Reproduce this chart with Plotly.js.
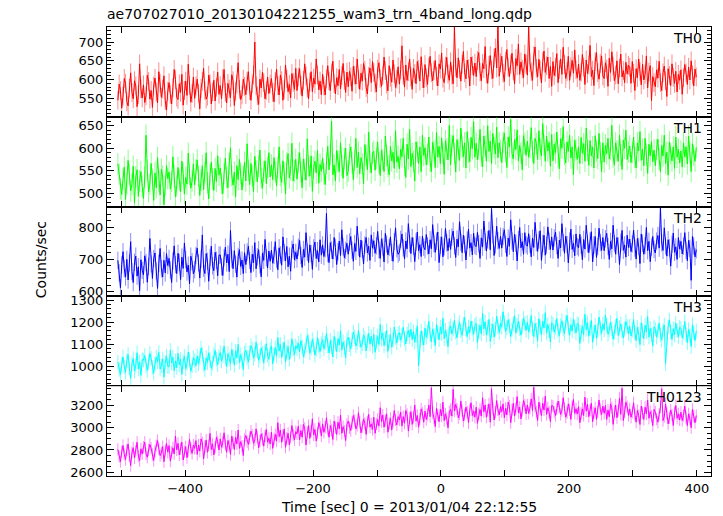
<!DOCTYPE html>
<html>
<head>
<meta charset="utf-8">
<script src="https://cdn.plot.ly/plotly-3.0.1.min.js"></script>
<style>html,body{margin:0;padding:0;background:#fff;}#chart{width:723px;height:516px;}</style>
</head>
<body>
<div id="chart"></div>
<script>
// Time bins (seconds from 2013/01/04 22:12:55), 2-s bins
const tStart = -505, tStep = 2, nBins = 453;
const times = [];
for (let i = 0; i < nBins; i++) times.push(tStart + tStep * i);

const panelNames = ["TH0", "TH1", "TH2", "TH3", "TH0123"];

const th0 = [
545,588,571,524,556,603,590,541,530,577,618,566,549,597,583,528,560,642,575,551,
586,539,557,612,595,548,571,526,583,604,567,538,621,590,553,575,610,544,519,569,
592,561,535,578,627,600,553,547,589,566,614,532,571,596,558,641,585,540,563,607,
550,583,601,564,522,577,595,630,571,548,556,612,589,535,567,598,543,579,620,561,
584,549,603,627,566,538,590,575,552,613,597,531,569,588,645,574,547,559,601,582,
560,596,621,571,545,589,612,700,583,557,534,601,578,620,592,549,571,607,563,588,
603,566,541,595,628,584,559,612,597,545,573,639,602,568,587,551,616,593,574,630,
571,607,629,585,556,598,642,610,577,549,593,621,568,604,588,655,612,573,596,560,
614,583,559,602,637,596,571,618,649,590,562,605,584,627,575,611,643,598,566,620,
581,622,607,569,635,612,588,655,601,574,617,596,643,625,579,562,609,631,592,648,
619,590,567,628,645,603,582,611,660,624,588,570,637,606,593,652,615,579,601,634,
588,626,690,612,580,639,598,621,655,607,574,630,616,589,648,627,596,661,603,578,
640,605,587,633,662,618,597,624,651,609,583,642,628,671,604,592,636,659,615,598,
647,612,589,740,633,605,658,627,596,641,675,618,602,652,629,583,660,637,611,644,
608,651,672,620,597,643,629,688,615,590,638,664,626,603,657,684,631,740,609,645,
662,617,595,649,680,633,608,641,670,623,589,656,637,695,614,647,628,605,668,641,
612,740,645,621,598,663,687,630,607,654,626,591,648,676,619,637,660,603,635,582,
648,611,633,669,592,627,655,614,686,640,603,621,662,598,634,651,617,679,626,605,
641,598,620,667,633,587,652,616,639,691,608,625,584,648,672,619,601,643,663,610,
603,645,628,582,657,619,674,636,597,612,650,589,631,668,607,624,592,646,615,638,
633,590,648,617,571,629,605,655,622,586,641,599,614,663,578,620,637,544,608,592,
581,626,604,649,592,571,618,636,597,555,629,611,584,642,606,590,622,567,614,598,
626,561,605,640,618,587,633,599,650,612,583,628,607];

const th1 = [
565,542,510,497,531,558,486,522,573,541,505,519,560,478,536,552,493,527,548,515,
488,536,629,551,503,520,566,531,484,545,512,579,527,496,553,538,474,518,561,532,
547,509,526,581,538,492,516,557,529,503,571,544,498,535,520,589,542,511,527,565,
518,552,574,537,495,529,561,508,546,590,523,487,541,569,532,506,555,526,583,540,
556,521,499,543,578,534,512,566,601,539,518,547,492,561,530,575,544,507,537,569,
527,610,551,519,566,538,503,582,549,525,560,596,533,511,548,572,521,557,590,536,
563,530,579,548,516,557,603,539,524,572,545,498,567,588,534,552,611,527,549,575,
531,568,590,547,512,576,553,529,621,560,538,583,504,557,571,545,595,522,564,549,
578,543,519,567,604,552,586,660,541,563,527,595,570,548,612,561,533,577,600,539,
549,586,603,568,530,574,622,557,591,543,579,565,521,608,584,552,636,570,545,589,
593,551,578,614,567,539,596,575,548,627,583,560,541,604,572,591,555,639,569,582,
554,598,581,622,563,535,609,576,642,559,588,571,527,614,592,566,603,548,629,584,
601,563,587,625,571,548,613,594,557,635,580,604,566,623,589,542,617,598,574,651,
563,606,628,588,547,619,596,573,645,602,581,612,556,637,591,570,624,599,659,580,
611,574,598,642,582,559,627,605,571,650,593,616,566,633,601,587,647,579,612,595,
568,613,634,592,557,625,603,664,588,576,619,597,641,572,606,589,552,628,611,584,
616,580,601,646,593,566,622,611,575,639,598,583,655,607,571,627,594,613,560,631,
572,609,590,636,581,554,621,600,648,586,567,614,593,629,578,603,541,618,596,575,
603,566,624,589,610,571,645,595,562,617,583,603,556,628,594,577,633,590,548,612,
569,607,588,622,576,598,651,581,563,612,594,571,629,585,553,618,600,640,575,592,
605,568,591,625,579,556,612,594,637,573,598,561,622,587,544,609,583,615,570,596,
561,597,620,575,548,606,583,629,566,591,540,614,588,572,603,555,625,580,598,567,
594,558,612,581,603,565,627,590,548,610,584,571,602];

const th2 = [
697,658,612,683,724,671,645,700,636,689,755,662,628,691,710,648,677,603,699,666,
652,711,690,629,678,765,686,641,702,720,664,610,688,734,671,645,697,658,718,681,
703,667,628,695,742,684,656,719,690,637,707,672,751,699,661,682,624,710,693,655,
668,712,735,689,642,701,776,673,656,718,694,632,706,741,680,665,722,697,649,713,
714,677,650,705,738,689,716,662,790,701,671,727,685,645,709,730,678,698,656,721,
684,723,741,697,659,716,689,752,671,708,730,683,646,719,697,762,705,673,726,694,
729,688,712,755,701,668,736,714,682,770,721,695,740,677,710,663,731,748,699,722,
701,738,759,712,675,731,707,783,722,690,745,718,669,736,754,703,727,692,761,713,
745,709,733,843,718,690,752,729,701,768,737,684,724,757,712,792,739,705,728,750,
716,754,771,728,694,749,725,803,738,707,760,731,686,745,768,720,741,697,776,735,
758,719,742,787,730,703,764,739,692,781,748,714,737,770,722,694,755,798,733,716,
722,762,779,736,701,757,733,811,749,718,768,741,693,754,785,727,746,709,772,738,
730,777,742,717,761,733,808,749,722,756,785,690,744,770,708,739,796,751,727,765,
731,769,788,742,706,763,739,817,754,721,775,747,698,760,794,735,752,714,781,743,
740,784,749,703,767,738,819,755,726,761,790,730,858,777,712,745,803,758,734,772,
735,771,792,747,709,766,741,823,757,724,778,750,695,762,799,736,755,716,783,746,
741,780,747,708,766,737,815,752,725,760,789,697,750,775,713,744,801,756,731,770,
729,767,785,743,703,760,736,811,752,719,772,746,689,757,794,731,750,711,779,740,
736,778,744,699,762,732,806,748,721,757,786,692,745,771,706,740,797,752,728,768,
727,764,781,740,700,756,733,806,749,716,768,742,684,753,790,728,745,707,775,737,
763,724,748,791,735,701,765,740,687,779,750,716,743,799,727,756,693,738,771,731,
720,757,774,735,860,751,728,798,742,710,761,736,679,747,782,722,739,700,768,732,
756,717,741,783,728,696,759,734,635,771,742,708,730];

const th3 = [
1018,985,961,1007,1042,996,972,1025,1053,990,944,1011,1034,978,1003,1061,987,1019,958,1030,
1027,1049,1003,981,1016,1058,1035,994,968,1012,1041,1020,1063,987,1002,1033,950,1018,1046,999,
997,1072,1015,1040,979,1024,993,1058,1006,1031,963,1020,1045,988,1012,1064,1028,977,1001,1039,
1026,1002,1047,1011,1036,1083,1055,1008,982,1038,1017,1061,1029,990,1013,1052,1072,1031,1006,1044,
1062,1023,1047,1091,1035,998,1057,1031,1012,1076,1044,1005,1068,1039,1099,1017,1052,1028,985,1060,
1072,1040,1019,1061,1093,1077,1036,1054,1109,1068,1027,1045,1083,1058,1014,1066,1102,1049,1031,1075,
1091,1011,1056,1084,1047,1130,1069,1098,1040,1074,1110,1018,1063,1089,1031,1065,1124,1077,1052,1093,
1080,1105,1065,1116,1088,1043,1071,1094,1139,1112,1059,1082,1121,1097,1050,1078,1130,1092,1066,1103,
1121,1079,1104,1149,1093,1060,1117,1088,1042,1135,1101,1066,1125,1096,1161,1073,1110,1084,1037,1119,
1131,1098,1079,1120,1155,1134,1092,1108,1163,1117,1086,1101,1142,1127,1069,1115,1149,1100,1136,1090,
1145,1063,1110,1136,1098,1189,1122,1151,1093,1127,1162,1067,1114,1143,1086,1119,1178,1130,1105,1147,
1152,1118,1140,1177,1125,1101,1146,1163,1132,1168,1121,1157,1109,1139,1183,1002,1113,1160,1128,1096,
1173,1131,1156,1204,1145,1111,1169,1140,1093,1189,1154,1120,1178,1148,1217,1125,1163,1136,1088,1172,
1183,1147,1170,1209,1155,1129,1176,1198,1161,1140,1191,1222,1168,1134,1179,1152,1205,1173,1144,1186,
1194,1108,1158,1186,1147,1240,1170,1201,1141,1176,1212,1113,1162,1191,1132,1167,1227,1178,1153,1196,
1177,1247,1199,1158,1174,1211,1182,1135,1166,1193,1229,1150,1187,1204,1170,1141,1180,1218,1195,1162,
1199,1155,1181,1230,1170,1134,1194,1165,1116,1215,1179,1143,1204,1173,1243,1150,1189,1161,1110,1197,
1190,1154,1177,1216,1163,1138,1185,1206,1169,1148,1197,1231,1175,1140,1188,1160,1213,1179,1151,1194,
1190,1103,1154,1182,1143,1236,1166,1197,1136,1172,1208,1109,1158,1187,1127,1163,1223,1174,1148,1192,
1165,1232,1187,1145,1163,1199,1170,1122,1154,1181,1217,1139,1175,1192,1159,1128,1168,1203,1181,1147,
1181,1137,1163,1212,1152,1116,1176,1147,1098,1197,1161,1125,1186,1155,1225,1132,1171,1143,1092,1179,
1168,1132,1157,1196,1143,1118,1164,1187,1012,1128,1179,1210,1156,1121,1170,1142,1195,1161,1133,1176,
1172,1128,1154,1203,1143,1107,1167,1138,1089,1188,1152,1116,1160];

const th0123 = [
2805,2740,2695,2785,2840,2760,2715,2800,2855,2750,2660,2775,2820,2730,2790,2870,2745,2705,2810,2765,
2825,2870,2765,2735,2800,2850,2815,2760,2705,2790,2840,2885,2810,2750,2775,2830,2695,2795,2860,2780,
2840,2700,2780,2820,2765,2925,2800,2860,2755,2810,2870,2710,2785,2830,2730,2795,2895,2815,2770,2845,
2815,2885,2760,2845,2790,2900,2865,2720,2830,2890,2780,2840,2950,2805,2855,2755,2825,2915,2875,2800,
2900,2825,2870,2955,2850,2780,2885,2840,2760,2925,2865,2805,2915,2855,2980,2815,2875,2835,2750,2895,
2930,2875,2850,2910,2970,2935,2860,2890,2990,2915,2820,2880,2945,2900,2835,2925,2985,2870,2905,2855,
2960,2815,2900,2940,2880,3045,2920,2980,2870,2930,2990,2825,2905,2950,2845,2915,3020,2935,2890,2965,
2945,3015,2890,2975,2915,3030,2995,2845,2960,3020,2905,2970,3080,2935,2985,2880,2955,3045,3005,2925,
3035,2960,3005,3090,2985,2915,3020,2975,2895,3060,3000,2940,3050,2990,3115,2950,3010,2970,2885,3030,
3060,3000,2975,3045,3110,3065,2990,3020,3135,3050,2955,3010,3080,3040,2940,3055,3120,3005,3035,2985,
3095,2950,3035,3075,3015,3180,3055,3115,3005,3065,3125,2960,3040,3085,2980,3050,3155,3070,3025,3100,
3070,3140,3015,3100,3040,3155,3120,2970,3085,3145,3030,3095,3205,3060,3110,3005,3080,3170,3130,3050,
3150,3075,3120,3205,3100,3360,3135,3090,3010,3175,3115,3055,3165,3105,3230,3065,3125,3085,3000,3145,
3165,3105,3345,3150,3210,3170,3090,3125,3240,3155,3060,3115,3185,3140,3045,3160,3225,3110,3150,3095,
3185,3040,3125,3165,3105,3270,3145,3205,3095,3155,3215,3050,3350,3175,3070,3140,3245,3160,3115,3190,
3145,3215,3090,3175,3115,3230,3195,3045,3160,3220,3105,3170,3280,3135,3185,3080,3155,3245,3205,3125,
3205,3130,3175,3260,3155,3365,3190,3145,3065,3230,3170,3110,3220,3160,3285,3120,3180,3140,3055,3200,
3195,3140,3110,3170,3240,3185,3120,3155,3270,3175,3095,3135,3215,3160,3075,3190,3255,3130,3170,3125,
3190,3045,3130,3170,3110,3275,3150,3210,3100,3160,3220,3055,3135,3180,3075,3145,3250,3165,3120,3195,
3130,3200,3075,3160,3100,3215,3180,3030,3145,3205,3090,3155,3265,3120,3355,3065,3140,3230,3190,3110,
3170,3095,3140,3225,3120,3050,3155,3110,3030,3195,3135,3075,3185,3125,3250,3085,3145,3105,3020,3165,
3140,3080,3050,3120,3185,3350,3065,3100,3215,3130,3035,3090,3160,3115,3020,3135,3200,3085,3125,3070,
3140,3065,3110,3195,3090,3020,3125,3080,3000,3165,3105,3045,3110];

const seriesValues = [th0, th1, th2, th3, th0123];
const seriesErr = [25, 24, 27, 33, 55];
const lineColors = ["#ff0000", "#00ff00", "#0000ff", "#00ffff", "#ff00ff"];
const errColors = ["rgba(255,0,0,0.45)", "rgba(0,255,0,0.45)", "rgba(0,0,255,0.45)", "rgba(0,255,255,0.5)", "rgba(255,0,255,0.45)"];

const yRanges = [[501, 740], [470, 670], [585, 864], [909, 1317], [2566, 3374]];
const yDticks = [50, 50, 100, 100, 200];
const yMinor = [10, 10, 20, 20, 50];

const FONT = "DejaVu Sans, Verdana, sans-serif";
const traces = [];
const layout = {
  width: 723, height: 516,
  margin: {l: 107, r: 12, t: 27, b: 40, pad: 0},
  paper_bgcolor: "#fff", plot_bgcolor: "#fff",
  showlegend: false,
  font: {family: FONT, size: 13, color: "#000"},
  title: {
    text: "ae707027010_20130104221255_wam3_trn_4band_long.qdp",
    x: 0, xref: "paper", xanchor: "left",
    y: 0.973, yref: "container", yanchor: "middle",
    font: {family: FONT, size: 14, color: "#000"}
  },
  annotations: []
};

for (let k = 0; k < 5; k++) {
  const sx = k === 0 ? "" : String(k + 1);
  traces.push({
    x: times, y: seriesValues[k],
    xaxis: "x" + sx, yaxis: "y" + sx,
    type: "scatter", mode: "lines",
    line: {color: lineColors[k], width: 1},
    error_y: {type: "constant", value: seriesErr[k], color: errColors[k], thickness: 1, width: 0},
    hoverinfo: "skip"
  });
  const top = 1 - 0.2 * k;
  layout["xaxis" + sx] = {
    domain: [0, 1], anchor: "y" + sx, range: [-522, 422],
    tickmode: "linear", tick0: 0, dtick: 200,
    ticks: "inside", ticklen: 6, tickwidth: 1, tickcolor: "#000",
    minor: {tickmode: "linear", tick0: 0, dtick: 100, ticks: "inside", ticklen: 6, tickcolor: "#000"},
    showticklabels: k === 4,
    showline: true, linecolor: "#000", linewidth: 1, mirror: "ticks",
    showgrid: false, zeroline: false,
    tickfont: {family: FONT, size: 13, color: "#000"}
  };
  layout["yaxis" + sx] = {
    domain: [top - 0.2, top], anchor: "x" + sx, range: yRanges[k],
    tickmode: "linear", tick0: 0, dtick: yDticks[k],
    ticks: "inside", ticklen: 7, tickwidth: 1, tickcolor: "#000",
    minor: {tickmode: "linear", tick0: 0, dtick: yMinor[k], ticks: "inside", ticklen: 4, tickcolor: "#000"},
    showline: true, linecolor: "#000", linewidth: 1, mirror: "ticks",
    showgrid: false, zeroline: false,
    tickfont: {family: FONT, size: 13, color: "#000"}
  };
  layout.annotations.push({
    text: panelNames[k], showarrow: false,
    xref: "paper", x: 0.988, xanchor: "right",
    yref: "y" + sx + " domain", y: 1, yanchor: "top", yshift: -1,
    font: {family: FONT, size: 14, color: "#000"}
  });
}

layout.annotations.push({
  text: "Counts/sec", showarrow: false, textangle: -90,
  xref: "paper", x: -0.109, xanchor: "center",
  yref: "paper", y: 0.481, yanchor: "middle",
  font: {family: FONT, size: 14, color: "#000"}
});
layout.annotations.push({
  text: "Time [sec] 0 = 2013/01/04 22:12:55", showarrow: false,
  xref: "paper", x: 0.5, xanchor: "center",
  yref: "paper", y: -0.068, yanchor: "middle",
  font: {family: FONT, size: 14, color: "#000"}
});

Plotly.newPlot("chart", traces, layout, {staticPlot: true, displayModeBar: false});
</script>
</body>
</html>
